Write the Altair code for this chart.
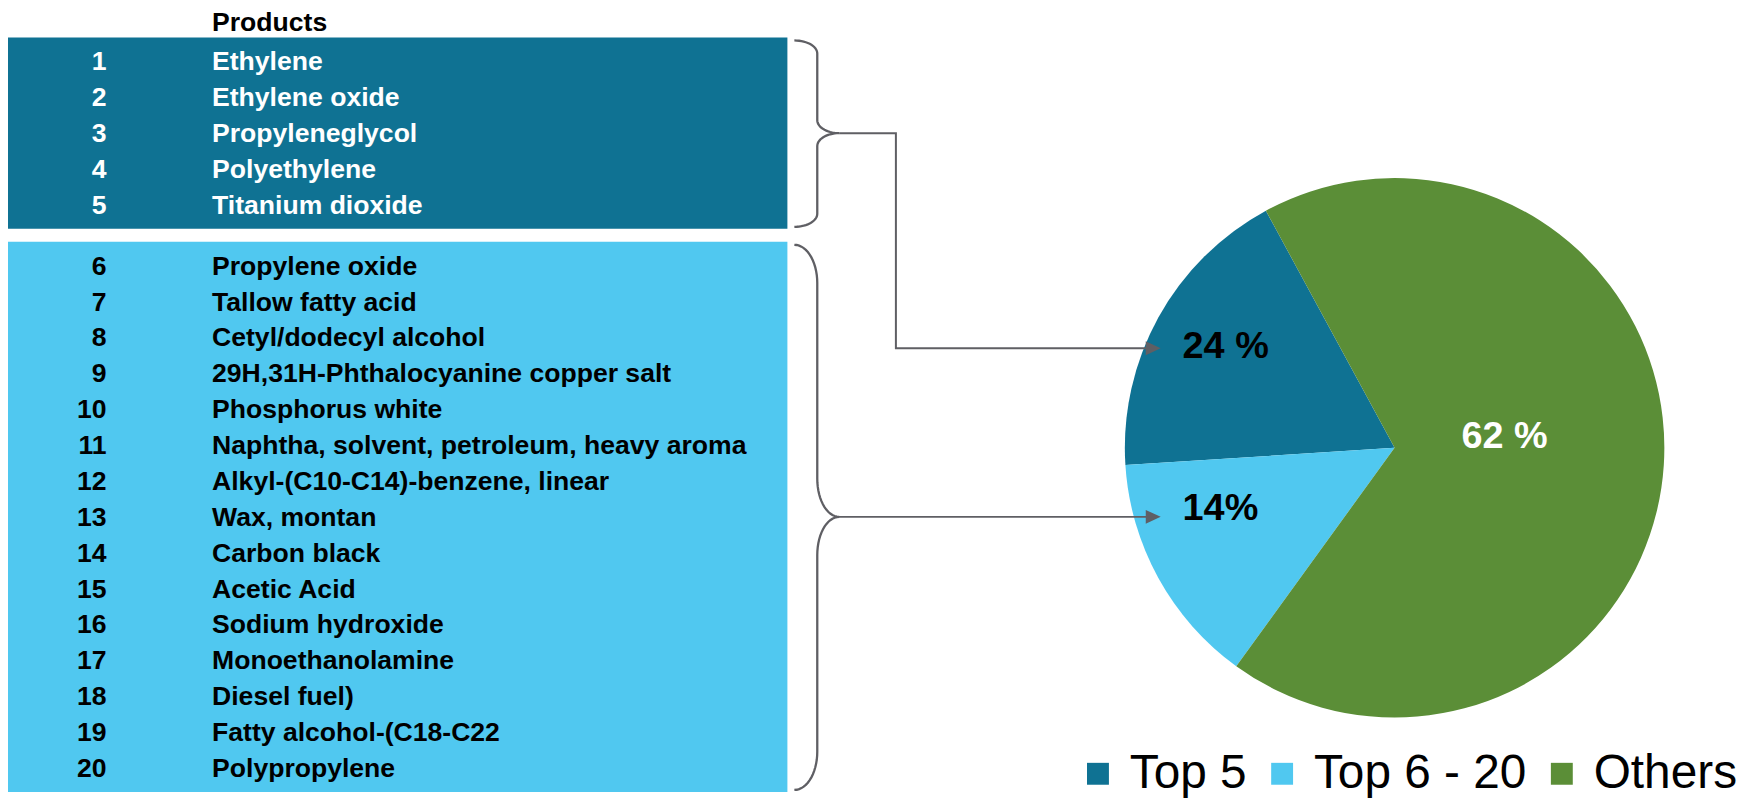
import altair as alt
import pandas as pd
import numpy as np

# ---------------- data ----------------
ranks = list(range(1, 21))
products = [
    "Ethylene", "Ethylene oxide", "Propyleneglycol", "Polyethylene", "Titanium dioxide",
    "Propylene oxide", "Tallow fatty acid", "Cetyl/dodecyl alcohol",
    "29H,31H-Phthalocyanine copper salt", "Phosphorus white",
    "Naphtha, solvent, petroleum, heavy aroma", "Alkyl-(C10-C14)-benzene, linear",
    "Wax, montan", "Carbon black", "Acetic Acid", "Sodium hydroxide",
    "Monoethanolamine", "Diesel fuel)", "Fatty alcohol-(C18-C22", "Polypropylene",
]
rank_group = ["Top 5"] * 5 + ["Top 6 - 20"] * 15
header = "Products"

groups = ["Top 5", "Top 6 - 20", "Others"]
slice_share = [18.1, 14.0, 67.9]          # shares as drawn in the pie
slice_labels = ["24 %", "14%", "62 %"]    # labels printed on the pie
slice_order = [2, 1, 0]                   # Others drawn first, clockwise
colors = ["#0F7293", "#50C8F0", "#5B8E37"]

# ---------------- layout (styling constants) ----------------
W, H = 1741, 790
FONT = "Liberation Sans"
TABLE_FS = 26.7
ROW1_Y, ROW_STEP, GROUP_GAP = 52.8, 36.05, 25
NUM_X, NAME_X = 99, 205
RECT_X0, RECT_X1 = 0, 783
BR_XL, BR_XV, BR_XM = 790, 813, 835
CONN_X = 892
ARROW_TIP = 1158
ARROW_Y_TOP5 = 340
PIE_CX, PIE_CY, PIE_R = 1393, 440, 271
LINE_COLOR = "#5F5F64"

rows = pd.DataFrame({"rank": ranks, "name": products, "group": rank_group})
rows["y"] = [ROW1_Y + (r - 1) * ROW_STEP + (GROUP_GAP if r > 5 else 0) for r in ranks]
rows["num"] = rows["rank"].astype(str)
rows["nx"] = NUM_X
rows["tx"] = NAME_X

grp = rows.groupby("group", sort=False)["y"].agg(["min", "max"]).reset_index()
grp["top"] = grp["min"] - 25
grp["bot"] = grp["max"] + 23
grp["x0"] = RECT_X0
grp["x1"] = RECT_X1
grp["mid"] = (grp["top"] + grp["bot"]) / 2

# braces
brace_pts = []
for gi, g in grp.iterrows():
    top, bot, mid = g["top"] + 3, g["bot"] - 2, g["mid"]
    c = 0.07 * (bot - top)
    t = np.linspace(0, np.pi / 2, 16)
    seg = []
    seg += list(zip(BR_XL + (BR_XV - BR_XL) * np.sin(t), top + c - c * np.cos(t)))
    seg += list(zip(BR_XM - (BR_XM - BR_XV) * np.cos(t), mid - c + c * np.sin(t)))
    seg += list(zip(BR_XM - (BR_XM - BR_XV) * np.sin(t), mid + c - c * np.cos(t)))
    seg += list(zip(BR_XL + (BR_XV - BR_XL) * np.cos(t), bot - c + c * np.sin(t)))
    for i, (x, y) in enumerate(seg):
        brace_pts.append({"path": g["group"], "i": i, "x": x, "y": y})
braces = pd.DataFrame(brace_pts)

mid1 = float(grp.loc[grp["group"] == "Top 5", "mid"].iloc[0])
mid2 = float(grp.loc[grp["group"] == "Top 6 - 20", "mid"].iloc[0])
base = ARROW_TIP - 14
conn = pd.DataFrame([
    {"path": "a", "i": 0, "x": BR_XM, "y": mid1},
    {"path": "a", "i": 1, "x": CONN_X, "y": mid1},
    {"path": "a", "i": 2, "x": CONN_X, "y": ARROW_Y_TOP5},
    {"path": "a", "i": 3, "x": base, "y": ARROW_Y_TOP5},
    {"path": "b", "i": 0, "x": BR_XM - 2, "y": mid2},
    {"path": "b", "i": 1, "x": base, "y": mid2},
])
heads = pd.DataFrame({"x": [ARROW_TIP - 7.5, ARROW_TIP - 7.5], "y": [ARROW_Y_TOP5, mid2]})

pie = pd.DataFrame({"group": groups, "share": slice_share, "ord": slice_order, "label": slice_labels})
pie_lab = pie.copy()
pie_lab["lx"] = [ARROW_TIP + 22, ARROW_TIP + 22, 1503.5]
pie_lab["ly"] = [ARROW_Y_TOP5 - 1, mid2 - 7.5, 429]
pie_lab["align"] = ["left", "left", "center"]
pie_lab["tc"] = ["black", "black", "white"]

# ---------------- chart ----------------
color_scale = alt.Scale(domain=groups, range=colors)
legend = alt.Legend(
    title=None, orient="none", direction="horizontal", legendX=1071, legendY=743.5,
    symbolType="square", symbolSize=484, symbolStrokeWidth=0, symbolOpacity=1,
    labelFont=FONT, labelFontSize=48, labelColor="black", labelOffset=8,
    columnPadding=11, padding=0, labelLimit=400,
)
col = alt.Color("group:N", scale=color_scale, legend=legend)

def X(f):
    return alt.X(f, scale=None, axis=None)

def Y(f):
    return alt.Y(f, scale=None, axis=None)

rects = alt.Chart(grp).mark_rect().encode(
    x=X("x0:Q"), x2="x1:Q", y=Y("top:Q"), y2="bot:Q", color=col
)

def row_text(group, color):
    d = rows[rows["group"] == group]
    nums = alt.Chart(d).mark_text(
        align="right", baseline="middle", font=FONT, fontSize=TABLE_FS, fontWeight="bold", color=color
    ).encode(x=X("nx:Q"), y=Y("y:Q"), text="num:N")
    names = alt.Chart(d).mark_text(
        align="left", baseline="middle", font=FONT, fontSize=TABLE_FS, fontWeight="bold", color=color
    ).encode(x=X("tx:Q"), y=Y("y:Q"), text="name:N")
    return nums + names

head = alt.Chart(pd.DataFrame({"t": [header], "x": [NAME_X], "y": [13]})).mark_text(
    align="left", baseline="middle", font=FONT, fontSize=TABLE_FS, fontWeight="bold", color="black"
).encode(x=X("x:Q"), y=Y("y:Q"), text="t:N")

brace_lines = alt.Chart(braces).mark_line(color=LINE_COLOR, strokeWidth=2.3).encode(
    x=X("x:Q"), y=Y("y:Q"), detail="path:N", order="i:Q"
)
conn_lines = alt.Chart(conn).mark_line(color=LINE_COLOR, strokeWidth=2, strokeJoin="miter").encode(
    x=X("x:Q"), y=Y("y:Q"), detail="path:N", order="i:Q"
)
arrowheads = alt.Chart(heads).mark_point(
    shape="M-1,-0.93L1,0L-1,0.93Z", size=225, filled=True, color=LINE_COLOR, opacity=1
).encode(x=X("x:Q"), y=Y("y:Q"))

a0 = np.deg2rad(331.5)
arcs = alt.Chart(pie).mark_arc(radius=PIE_R).encode(
    theta=alt.Theta("share:Q", stack=True, scale=alt.Scale(range=[a0, a0 + 2 * np.pi])),
    order=alt.Order("ord:Q"),
    color=col,
    x=alt.value(PIE_CX), y=alt.value(PIE_CY),
)

def pie_text(i):
    d = pie_lab.iloc[[i]]
    return alt.Chart(d).mark_text(
        align=d["align"].iloc[0], baseline="middle", font=FONT, fontSize=38,
        fontWeight="bold", color=d["tc"].iloc[0]
    ).encode(x=X("lx:Q"), y=Y("ly:Q"), text="label:N")

chart = alt.layer(
    rects, arcs, head,
    row_text("Top 5", "white"), row_text("Top 6 - 20", "black"),
    brace_lines, conn_lines, arrowheads,
    pie_text(0), pie_text(1), pie_text(2),
).properties(
    width=W, height=H, padding=0, autosize=alt.AutoSizeParams(type="none")
).configure(background="white").configure_view(stroke=None)

chart.save("out.html", embed_options={"renderer": "svg", "actions": False})
